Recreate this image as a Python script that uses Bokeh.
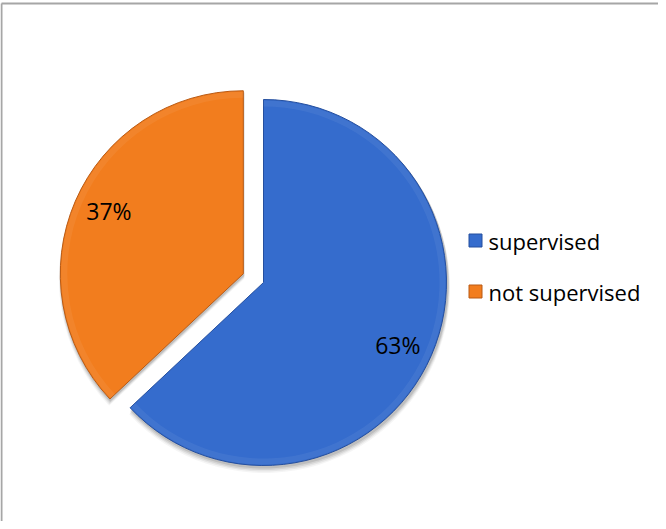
import numpy as np
from bokeh.plotting import figure
from bokeh.models import Range1d
from bokeh.embed import file_html
from bokeh.resources import INLINE
from bokeh.core.properties import value

# ---- data ----
categories = ["supervised", "not supervised"]
shares = [63, 37]
pct_labels = ["63%", "37%"]
fill_colors = ["#356CCD", "#F27D1E"]
edge_colors = ["#254F9E", "#B95A14"]
explode = [0, 22]

# ---- layout (screen pixels) ----
W, H = 658, 521
FONT = "Open Sans"
cx, cy = 271, 290          # pie centre (screen px)
R = 183
label_frac = [0.80, 0.80]
label_dy = [-4, 5]

p = figure(width=W, height=H, x_range=Range1d(8, 8 + W), y_range=Range1d(-(8 + H), -8),
           output_backend="svg", toolbar_location=None, min_border=0,
           x_axis_location=None, y_axis_location=None)
p.grid.visible = False
p.outline_line_color = None
p.background_fill_color = "white"
p.border_fill_color = "white"

# chart border (top and left visible)
p.line(x=[9, 9], y=[-11, -(8 + H)], line_color="#A6A6A6", line_width=2)
p.line(x=[9, 8 + W], y=[-11, -11], line_color="#A6A6A6", line_width=2)

total = sum(shares)
ang = 90.0
starts, ends, centers = [], [], []
for s, e in zip(shares, explode):
    sweep = s / total * 360.0
    a1 = ang
    a0 = ang - sweep
    mid = np.deg2rad((a0 + a1) / 2)
    ox = cx + e * np.cos(mid)
    oy = -cy + e * np.sin(mid)
    starts.append(np.deg2rad(a0))
    ends.append(np.deg2rad(a1))
    centers.append((ox, oy, mid))
    ang = a0

# soft shadow
for k, a in zip([5, 4, 3, 2], [0.04, 0.06, 0.08, 0.10]):
    for (ox, oy, mid), a0, a1 in zip(centers, starts, ends):
        p.wedge(x=ox + 1, y=oy - k, radius=R + k * 0.5, start_angle=a0, end_angle=a1,
                direction="anticlock", fill_color="black", fill_alpha=a, line_color=None)

for i, ((ox, oy, mid), a0, a1) in enumerate(zip(centers, starts, ends)):
    p.wedge(x=ox, y=oy, radius=R, start_angle=a0, end_angle=a1, direction="anticlock",
            fill_color=fill_colors[i], line_color=edge_colors[i], line_width=1)
    # subtle bevel highlight towards the inside
    p.annular_wedge(x=ox, y=oy, inner_radius=R - 7, outer_radius=R - 1,
                    start_angle=a0, end_angle=a1, direction="anticlock",
                    fill_color="white", fill_alpha=0.06, line_color=None)
    lx = ox + label_frac[i] * R * np.cos(mid)
    ly = oy + label_frac[i] * R * np.sin(mid) + label_dy[i]
    p.text(x=[lx], y=[ly], text=[pct_labels[i]], text_align="center", text_baseline="middle",
           text_font=value(FONT), text_font_size="23px", text_color="black")

# legend
leg_x, leg_y0, leg_dy = 483, 248, 51
for i, cat in enumerate(categories):
    yy = -(leg_y0 + i * leg_dy)
    p.scatter(x=[leg_x], y=[yy], marker="square", size=13,
              fill_color=fill_colors[i], line_color=edge_colors[i], line_width=1)
    p.text(x=[leg_x + 13], y=[yy], text=[cat], text_align="left", text_baseline="middle",
           text_font=value(FONT), text_font_size="22px", text_color="black")

open("out.html", "w").write(file_html(p, INLINE))
